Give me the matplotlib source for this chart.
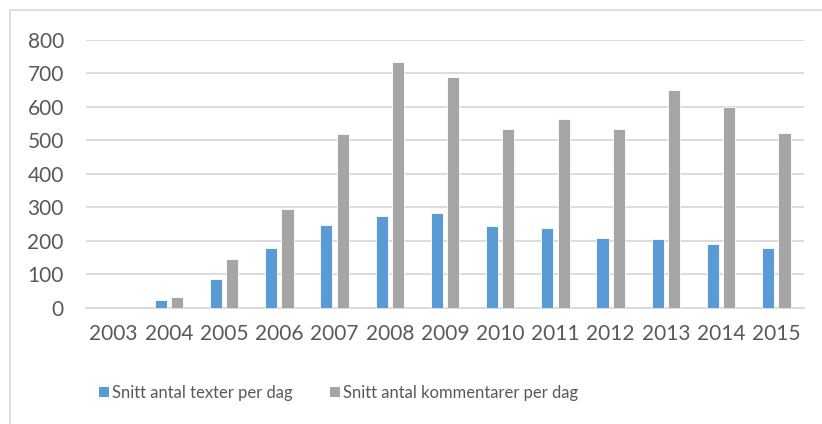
import matplotlib
matplotlib.use("Agg")
import matplotlib.pyplot as plt
import numpy as np
from matplotlib.patches import Rectangle, Patch

years = ["2003", "2004", "2005", "2006", "2007", "2008", "2009",
         "2010", "2011", "2012", "2013", "2014", "2015"]
texter = [0, 22, 86, 179, 246, 274, 284, 245, 238, 209, 205, 190, 177]
kommentarer = [0, 32, 145, 295, 519, 732, 688, 533, 562, 533, 649, 598, 521]
labels = ["Snitt antal texter per dag", "Snitt antal kommentarer per dag"]
yticks = [0, 100, 200, 300, 400, 500, 600, 700, 800]

BLUE = "#5B9BD5"
GRAY = "#A5A5A5"
TXT = "#595959"
GRID = "#D9D9D9"

plt.rcParams['font.family'] = ['Lato', 'DejaVu Sans']

W, H = 822, 424
fig = plt.figure(figsize=(W / 100, H / 100), dpi=100)
ax = fig.add_axes([86 / W, 1 - 307.7 / H, (804 - 86) / W, (307.7 - 39.7) / H])

x = np.arange(len(years))
bw = 0.22
off = 0.147
ax.bar(x - off, texter, bw, color=BLUE, edgecolor="white", linewidth=0.6, zorder=3)
ax.bar(x + off, kommentarer, bw, color=GRAY, edgecolor="white", linewidth=0.6, zorder=3)

ax.set_xlim(-0.5, len(years) - 0.5)
ax.set_ylim(0, 800)
ax.set_yticks(yticks)
ax.set_xticks(x)
ax.set_xticklabels(years)
ax.yaxis.grid(True, color=GRID, linewidth=1.3, zorder=0)
ax.set_axisbelow(True)
for s in ["top", "right", "left"]:
    ax.spines[s].set_visible(False)
ax.spines["bottom"].set_color(GRID)
ax.spines["bottom"].set_linewidth(1.3)
ax.tick_params(axis="both", length=0, colors=TXT, labelsize=15)
ax.tick_params(axis="y", pad=16)
ax.tick_params(axis="x", pad=12)

handles = [Patch(facecolor=BLUE), Patch(facecolor=GRAY)]
leg = fig.legend(handles, labels, loc="center", bbox_to_anchor=(338.5 / W, 1 - 393 / H),
                 ncol=2, frameon=False, fontsize=12, handlelength=0.6, handleheight=0.6,
                 handletextpad=0.22, columnspacing=2.2, labelcolor=TXT,
                 borderpad=0, borderaxespad=0)

fig.patches.append(Rectangle((10 / W, -0.1), 1.2, 1 - 10 / H + 0.1, transform=fig.transFigure,
                             fill=False, edgecolor=GRID, linewidth=1.2))

fig.savefig("out.png", dpi=100)
